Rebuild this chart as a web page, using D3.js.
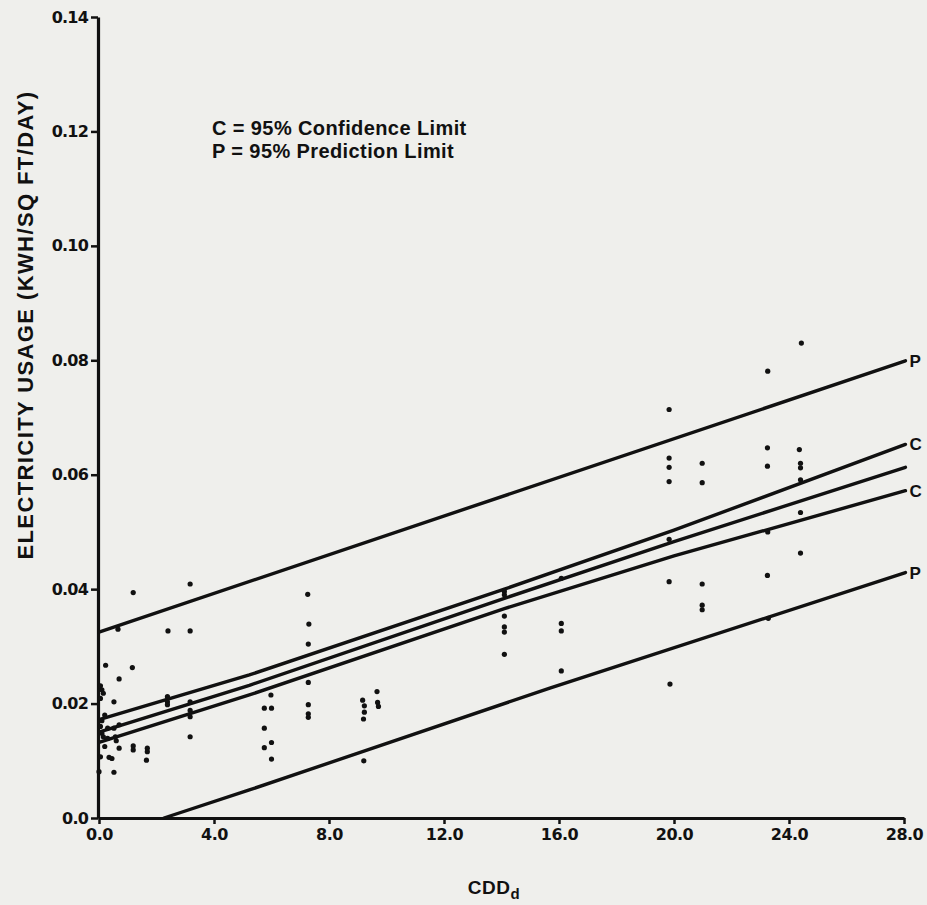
<!DOCTYPE html>
<html>
<head>
<meta charset="utf-8">
<script src="https://cdn.jsdelivr.net/npm/d3@7/dist/d3.min.js"></script>
<style>
  html, body { margin: 0; padding: 0; background: #efefec; }
  svg { display: block; }
</style>
</head>
<body>
<svg id="chart" width="927" height="905"></svg>
<script>
// ---- tick definitions ----
const xTickValues = [0, 4, 8, 12, 16, 20, 24, 28];
const xTickLabels = ["0.0", "4.0", "8.0", "12.0", "16.0", "20.0", "24.0", "28.0"];
const yTickValues = [0, 0.02, 0.04, 0.06, 0.08, 0.10, 0.12, 0.14];
const yTickLabels = ["0.0", "0.02", "0.04", "0.06", "0.08", "0.10", "0.12", "0.14"];

// ---- observed points (CDDd, kWh/sq ft/day) ----
const pointCDD = [
  0.05, 0.10, 0.15, 0.05, 0.23, 0.20, 0.10, 0.05, 0.30, 0.10, 0.30, 0.15, 0.20, 0.05, 0.35, 0.00, 0.45,
  0.52, 0.52, 0.57, 0.70, 0.70, 0.70, 0.52, 0.66, 0.60,
  1.16, 1.19, 1.19, 1.19,
  1.68, 1.68, 1.65,
  2.40, 2.38, 2.38, 2.38,
  3.17, 3.17, 3.17, 3.17, 3.17, 3.17,
  5.98, 5.75, 6.00, 5.75, 5.75, 6.00, 6.00,
  7.26, 7.30, 7.28, 7.28, 7.28, 7.28, 7.28,
  9.17, 9.23, 9.23, 9.20, 9.21,
  9.67, 9.69, 9.72,
  14.10, 14.10, 14.10, 14.10, 14.10, 14.10,
  16.08, 16.08, 16.08, 16.08,
  19.83, 19.83, 19.83, 19.83, 19.83, 19.83, 19.86,
  20.98, 20.98, 20.98, 20.98, 20.98,
  23.26, 23.25, 23.25, 23.26, 23.25, 23.28,
  24.43, 24.36, 24.40, 24.40, 24.40, 24.40, 24.40
];
const pointUsage = [
  0.0231, 0.0224, 0.0218, 0.0209, 0.0267, 0.0180, 0.0170, 0.0160, 0.0157, 0.0148, 0.0139, 0.0142, 0.0125, 0.0107, 0.0106, 0.0081, 0.0104,
  0.0203, 0.0157, 0.0142, 0.0243, 0.0163, 0.0122, 0.0080, 0.0330, 0.0135,
  0.0263, 0.0394, 0.0126, 0.0119,
  0.0122, 0.0116, 0.0101,
  0.0327, 0.0212, 0.0203, 0.0198,
  0.0409, 0.0327, 0.0203, 0.0188, 0.0177, 0.0142,
  0.0215, 0.0192, 0.0192, 0.0157, 0.0123, 0.0132, 0.0103,
  0.0391, 0.0339, 0.0304, 0.0237, 0.0198, 0.0182, 0.0176,
  0.0206, 0.0196, 0.0185, 0.0173, 0.0100,
  0.0221, 0.0202, 0.0195,
  0.0396, 0.0390, 0.0353, 0.0334, 0.0325, 0.0286,
  0.0419, 0.0340, 0.0327, 0.0257,
  0.0714, 0.0629, 0.0613, 0.0588, 0.0487, 0.0413, 0.0234,
  0.0620, 0.0586, 0.0409, 0.0372, 0.0364,
  0.0781, 0.0647, 0.0615, 0.0500, 0.0424, 0.0349,
  0.0830, 0.0644, 0.0620, 0.0612, 0.0591, 0.0534, 0.0463
];

// ---- fitted line and limits ----
const upperPX = [0, 28.05];
const upperPY = [0.0325, 0.0799];
const upperCX = [0, 5.23, 14.1, 20, 28.05];
const upperCY = [0.0172, 0.0250, 0.0400, 0.0503, 0.0653];
const fitX = [0, 5.23, 14.1, 20, 28.05];
const fitY = [0.0150, 0.0232, 0.0384, 0.0483, 0.0613];
const lowerCX = [0, 5.23, 14.1, 20, 28.05];
const lowerCY = [0.0132, 0.0215, 0.0366, 0.0458, 0.0572];
const lowerPX = [2.26, 5.23, 15.68, 28.05];
const lowerPY = [0.0, 0.0049, 0.0227, 0.0429];

const lineSeries = [
  { xs: upperPX, ys: upperPY, label: "P" },
  { xs: upperCX, ys: upperCY, label: "C" },
  { xs: fitX, ys: fitY, label: "" },
  { xs: lowerCX, ys: lowerCY, label: "C" },
  { xs: lowerPX, ys: lowerPY, label: "P" }
];

const legendLines = ["C = 95% Confidence Limit", "P = 95% Prediction Limit"];

// ---- drawing ----
const ink = "#111111";
const svg = d3.select("#chart");
svg.append("rect").attr("width", 927).attr("height", 905).attr("fill", "#efefec");

const x = d3.scaleLinear().domain([0, 28]).range([99, 904]);
const y = d3.scaleLinear().domain([0, 0.14]).range([818, 17]);

const tickFont = "'DejaVu Sans', sans-serif";
const textFont = "'Liberation Sans', Arial, sans-serif";

// x axis
const xAxis = d3.axisBottom(x)
  .tickValues(xTickValues)
  .tickFormat((d, i) => xTickLabels[i])
  .tickSize(6).tickSizeOuter(0).tickPadding(5);
const gx = svg.append("g").attr("transform", `translate(0,${y(0)})`).call(xAxis);
gx.select(".domain").attr("stroke", ink).attr("stroke-width", 3.2);
gx.selectAll(".tick line").attr("stroke", ink).attr("stroke-width", 2.5);
gx.selectAll(".tick text").attr("fill", ink)
  .style("font-family", tickFont).style("font-weight", "bold").style("font-size", "16px")
  .style("letter-spacing", "-0.5px");

// y axis
const yAxis = d3.axisLeft(y)
  .tickValues(yTickValues)
  .tickFormat((d, i) => yTickLabels[i])
  .tickSize(7).tickSizeOuter(0).tickPadding(3);
const gy = svg.append("g").attr("transform", `translate(${x(0) - 1},0)`).call(yAxis);
gy.select(".domain").attr("stroke", ink).attr("stroke-width", 3.2);
gy.selectAll(".tick line").attr("stroke", ink).attr("stroke-width", 2.5);
gy.selectAll(".tick text").attr("fill", ink)
  .style("font-family", tickFont).style("font-weight", "bold").style("font-size", "16px")
  .style("letter-spacing", "-0.8px");

// lines
const lineGen = d3.line().x(d => x(d[0])).y(d => y(d[1]));
lineSeries.forEach(s => {
  const pts = s.xs.map((v, i) => [v, s.ys[i]]);
  svg.append("path").datum(pts)
    .attr("d", lineGen)
    .attr("fill", "none").attr("stroke", ink)
    .attr("stroke-width", 3.4).attr("stroke-linecap", "round");
  if (s.label) {
    const last = pts[pts.length - 1];
    svg.append("text")
      .attr("x", x(last[0]) + 4).attr("y", y(last[1]) + 6)
      .attr("fill", ink)
      .style("font-family", textFont).style("font-weight", "bold").style("font-size", "17px")
      .text(s.label);
  }
});

// points
svg.append("g").selectAll("circle")
  .data(pointCDD.map((v, i) => [v, pointUsage[i]]))
  .join("circle")
  .attr("cx", d => x(d[0])).attr("cy", d => y(d[1]))
  .attr("r", 2.6).attr("fill", ink);

// legend
legendLines.forEach((t, i) => {
  svg.append("text")
    .attr("x", 212).attr("y", 135 + i * 23)
    .attr("fill", ink)
    .style("font-family", textFont).style("font-weight", "bold").style("font-size", "20px")
    .style("letter-spacing", "0.4px")
    .text(t);
});

// y axis title
svg.append("text")
  .attr("transform", "translate(33,325) rotate(-90)")
  .attr("text-anchor", "middle")
  .attr("fill", ink)
  .style("font-family", textFont).style("font-weight", "bold").style("font-size", "22px")
  .style("letter-spacing", "1.4px")
  .text("ELECTRICITY USAGE (KWH/SQ FT/DAY)");

// x axis title with subscript
const xt = svg.append("text")
  .attr("x", 494).attr("y", 894)
  .attr("text-anchor", "middle")
  .attr("fill", ink)
  .style("font-family", textFont).style("font-weight", "bold").style("font-size", "19px")
  .style("letter-spacing", "0.5px");
xt.append("tspan").text("CDD");
xt.append("tspan").attr("dy", 5).style("font-size", "15px").text("d");
</script>
</body>
</html>
